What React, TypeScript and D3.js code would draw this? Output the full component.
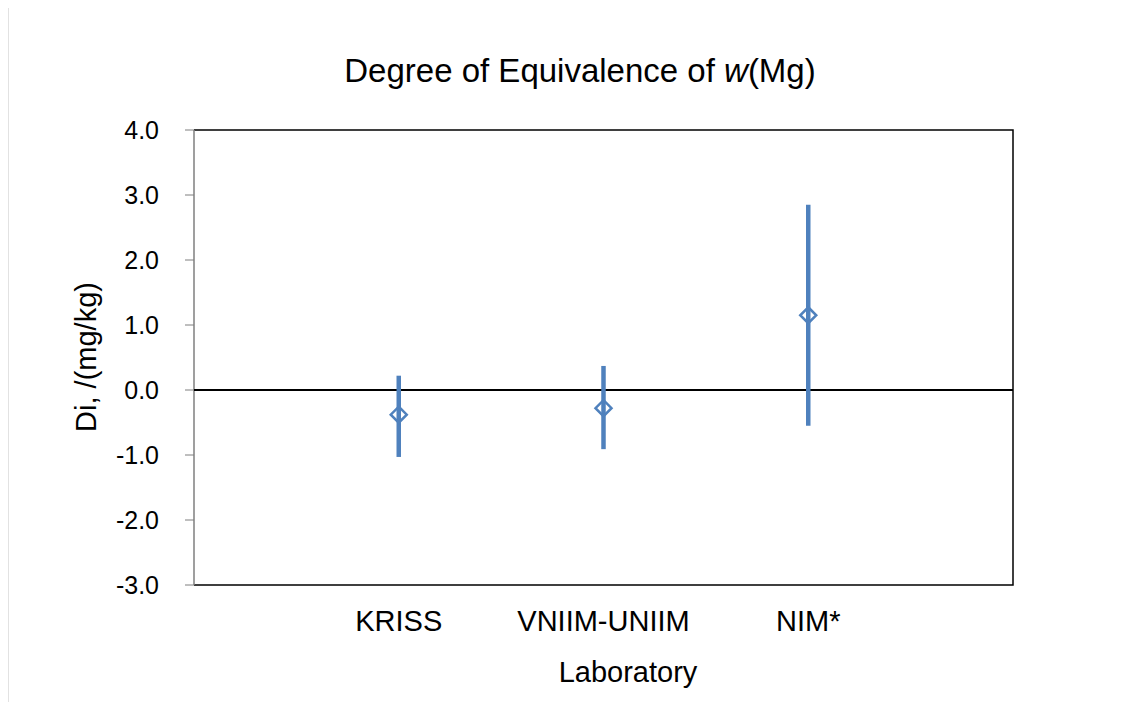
import { useRef, useEffect } from "react";
import * as d3 from "d3";

// laboratories (blank slots at each end, as in the original chart)
const labs = ["KRISS", "VNIIM-UNIIM", "NIM*"];
const di = [-0.38, -0.28, 1.15];
const lower = [-1.03, -0.91, -0.55];
const upper = [0.22, 0.37, 2.85];
const yTicks = [-3, -2, -1, 0, 1, 2, 3, 4];

const blue = "#4F81BD";
const font = "'Liberation Sans', Arial, sans-serif";

const Chart = () => {
    const ref = useRef<SVGSVGElement>(null);

    useEffect(() => {
        const svg = d3.select(ref.current);
        svg.selectAll("*").remove();

        const left = 194, right = 1013, top = 130, bottom = 585;

        // x: slot index 0..4, labs sit on 1..3
        const x = d3.scaleLinear().domain([0, labs.length + 1]).range([left, right]);
        const y = d3.scaleLinear().domain([-3, 4]).range([bottom, top]);

        // outer frame (only top/left visible in the picture)
        svg.append("path")
            .attr("d", "M7.5,710 V6.5 H1132")
            .attr("fill", "none")
            .attr("stroke", "#8c8c8c")
            .attr("stroke-width", 1.5);

        svg.append("text")
            .attr("x", 580).attr("y", 82)
            .attr("text-anchor", "middle")
            .attr("font-family", font)
            .attr("font-size", 33)
            .call(t => {
                t.append("tspan").text("Degree of Equivalence of ");
                t.append("tspan").attr("font-style", "italic").text("w");
                t.append("tspan").text("(Mg)");
            });

        // plot frame
        svg.append("path")
            .attr("d", `M${left},${top} H${right} V${bottom} H${left}`)
            .attr("fill", "none").attr("stroke", "#000").attr("stroke-width", 1.5);
        svg.append("line")
            .attr("x1", left).attr("x2", left).attr("y1", top).attr("y2", bottom)
            .attr("stroke", "#7f7f7f").attr("stroke-width", 1.5);

        // y ticks and labels
        const yg = svg.append("g");
        yg.selectAll("line").data(yTicks).join("line")
            .attr("x1", left - 9).attr("x2", left)
            .attr("y1", d => y(d)).attr("y2", d => y(d))
            .attr("stroke", "#7f7f7f").attr("stroke-width", 1);
        yg.selectAll("text").data(yTicks).join("text")
            .attr("x", 159).attr("y", d => y(d))
            .attr("dy", "0.36em")
            .attr("text-anchor", "end")
            .attr("font-family", font).attr("font-size", 25)
            .text(d => d.toFixed(1));

        // zero line
        svg.append("line")
            .attr("x1", left).attr("x2", right)
            .attr("y1", y(0)).attr("y2", y(0))
            .attr("stroke", "#000").attr("stroke-width", 2);

        // x labels
        svg.selectAll("text.lab").data(labs).join("text")
            .attr("class", "lab")
            .attr("x", (d, i) => x(i + 1)).attr("y", 631)
            .attr("text-anchor", "middle")
            .attr("font-family", font).attr("font-size", 29)
            .text(d => d);

        svg.append("text")
            .attr("x", 628).attr("y", 682)
            .attr("text-anchor", "middle")
            .attr("font-family", font).attr("font-size", 29)
            .text("Laboratory");

        svg.append("text")
            .attr("transform", `translate(96,357) rotate(-90)`)
            .attr("text-anchor", "middle")
            .attr("font-family", font).attr("font-size", 29)
            .text("Di, /(mg/kg)");

        // error bars
        svg.selectAll("line.err").data(labs).join("line")
            .attr("class", "err")
            .attr("x1", (d, i) => x(i + 1)).attr("x2", (d, i) => x(i + 1))
            .attr("y1", (d, i) => y(upper[i])).attr("y2", (d, i) => y(lower[i]))
            .attr("stroke", blue).attr("stroke-width", 4.5);

        // diamond markers
        const r = 8;
        svg.selectAll("path.pt").data(labs).join("path")
            .attr("class", "pt")
            .attr("transform", (d, i) => `translate(${x(i + 1)},${y(di[i])})`)
            .attr("d", `M0,${-r} L${r},0 L0,${r} L${-r},0 Z`)
            .attr("fill", "none")
            .attr("stroke", blue).attr("stroke-width", 2.5);
    }, []);

    return <svg ref={ref} width={1132} height={710} style={{ display: "block" }} />;
};

export default function App() {
    return (
        <div style={{ margin: -8 }}>
            <Chart />
        </div>
    );
}
